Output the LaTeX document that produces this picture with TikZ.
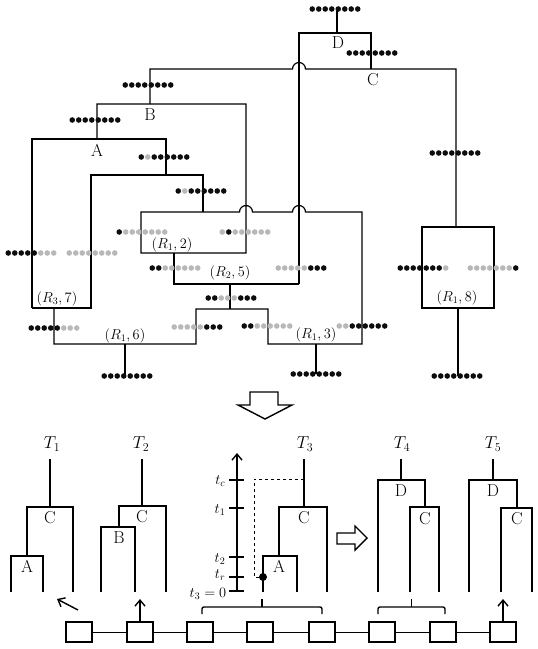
\documentclass[tikz,border=0pt]{standalone}
\usepackage{amsmath}
\usepackage{tikz}
\usetikzlibrary{arrows.meta}
\usetikzlibrary{positioning}
\definecolor{mgray}{rgb}{0.72, 0.72, 0.72}
\definecolor{mblack}{rgb}{0.05, 0.05, 0.05}
\colorlet{K}{mblack}
\colorlet{G}{mgray}

% a row of eight sites, centred on (#1,#2)
\newcommand{\sites}[3]{%
  \foreach \c [count=\i] in {#3}
    \fill [\c] (#1+\i*6.5-29.25, #2) circle (2.8pt);
}
\tikzset{
  lbl/.style={font=\fontsize{17.28}{20}\selectfont, inner sep=0pt},
  rlbl/.style={font=\fontsize{14.4}{17}\selectfont, inner sep=0pt},
  seqbox/.style={draw, line width=2.6pt, minimum width=26pt, minimum height=20pt, inner sep=0pt},
  tip/.style={-{Straight Barb[length=6pt, width=10pt]}}
}

\begin{document}
\begin{tikzpicture}[x=1pt, y=-1pt, line width=1.2pt]
      \useasboundingbox (0,0) rectangle (538,649);

      % ancestral recombination graph
      \draw (337,9) -- (337,33);
      \draw (299,284) -- (299,33) -- (371,33) -- (371,69);
      \draw (150,104) -- (150,69) -- (292.5,69) arc [start angle=180, end angle=0, radius=6.5pt] -- (456,69) -- (456,227);
      \draw (97,139) -- (97,104) -- (246,104) -- (246,253) -- (141,253) -- (141,212)
            -- (239.5,212) arc [start angle=180, end angle=0, radius=6.5pt]
            -- (292.5,212) arc [start angle=180, end angle=0, radius=6.5pt]
            -- (362,212) -- (362,344) -- (268,344) -- (268,309) -- (196,309) -- (196,344) -- (54,344) -- (54,308);
      \draw (32,308) -- (32,139) -- (166,139) -- (166,175);
      \draw (32,308) -- (91,308) -- (91,175) -- (203,175) -- (203,212);
      \draw (174,253) -- (174,284) -- (299,284);
      \draw (230,284) -- (230,309);
      \draw (316,344) -- (316,374);
      \draw (125,344) -- (125,376);
      \draw (422,227) rectangle (494,308);
      \draw (458,308) -- (458,376);

      \sites{335}{9}{K,K,K,K,K,K,K,K}
      \sites{372}{53}{K,K,K,K,K,K,K,K}
      \sites{148}{85}{K,K,K,K,K,K,K,K}
      \sites{95}{120}{K,K,K,K,K,K,K,K}
      \sites{455}{153}{K,K,K,K,K,K,K,K}
      \sites{164}{157}{K,G,K,K,K,K,K,K}
      \sites{201}{191}{K,G,K,K,K,K,K,K}
      \sites{142}{232}{K,G,G,G,G,G,G,G}
      \sites{245}{232}{G,K,G,G,G,G,G,G}
      \sites{31}{253}{K,K,K,K,K,G,G,G}
      \sites{92}{253}{G,G,G,G,G,G,G,G}
      \sites{175}{268}{K,K,G,G,G,G,G,G}
      \sites{301}{268}{G,G,G,G,G,K,K,K}
      \sites{423}{268}{K,K,K,K,K,K,K,G}
      \sites{493}{268}{G,G,G,G,G,G,G,K}
      \sites{231}{298}{K,K,G,G,G,K,K,K}
      \sites{197}{327}{G,G,G,G,G,K,K,K}
      \sites{267}{326}{K,K,G,G,G,G,G,G}
      \sites{362}{326}{G,G,K,K,K,K,K,K}
      \sites{54}{328}{K,K,K,K,K,G,G,G}
      \sites{316}{374}{K,K,K,K,K,K,K,K}
      \sites{127}{376}{K,K,K,K,K,K,K,K}
      \sites{457}{376}{K,K,K,K,K,K,K,K}

      \node [lbl] (nD) at (338,43) {D};
      \node [lbl] (nC) at (373,80) {C};
      \node [lbl] (nB) at (150,115) {B};
      \node [lbl] (nA) at (97,150) {A};
      \node [rlbl] (r12) at (172,245) {$(R_1, 2)$};
      \node [rlbl] (r25) at (230,273) {$(R_2, 5)$};
      \node [rlbl] (r37) at (57,299) {$(R_3, 7)$};
      \node [rlbl] (r16) at (125,336) {$(R_1, 6)$};
      \node [rlbl] (r13) at (316,335) {$(R_1, 3)$};
      \node [rlbl] (r18) at (457,298) {$(R_1, 8)$};

      \draw [line width=1.4pt] (250,392) -- (278,392) -- (278,405) -- (292,405) -- (265,419) -- (238,405) -- (250,405) -- cycle;

      % local trees
      \begin{scope}[line width=1.4pt]
      \node [lbl] (T1) at (52,444) {$T_1$};
      \draw (50,459) -- (50,507);
      \draw (27,556) -- (27,507) -- (73,507) -- (73,592);
      \draw (11,592) -- (11,556) -- (43,556) -- (43,592);
      \node [lbl] (t1C) at (50,518) {C};
      \node [lbl] (t1A) at (27,566) {A};

      \node [lbl] (T2) at (141,444) {$T_2$};
      \draw (142,459) -- (142,506);
      \draw (119,527) -- (119,506) -- (166,506) -- (166,592);
      \draw (101,592) -- (101,527) -- (135,527) -- (135,592);
      \node [lbl] (t2C) at (142,517) {C};
      \node [lbl] (t2B) at (119,538) {B};

      \draw [tip] (237,591) -- (237,453);
      \foreach \y in {480,508,557,577,591}
        \draw (229,\y) -- (244,\y);
      \node [rlbl, anchor=east] (tc) at (226,481) {$t_c$};
      \node [rlbl, anchor=east] (tone) at (226,510) {$t_1$};
      \node [rlbl, anchor=east] (ttwo) at (226,559) {$t_2$};
      \node [rlbl, anchor=east] (tr) at (226,575) {$t_r$};
      \node [rlbl, anchor=east] (tthree) at (227,594) {$t_3 = 0$};

      \node [lbl] (T3) at (305,444) {$T_3$};
      \draw (304,459) -- (304,507);
      \draw [dashed, line width=1pt] (304,479) -- (254,479) -- (254,577) -- (263,577);
      \fill (263,577) circle (4pt);
      \draw (279,556) -- (279,507) -- (327,507) -- (327,592);
      \draw (263,592) -- (263,556) -- (297,556) -- (297,592);
      \node [lbl] (t3C) at (304,518) {C};
      \node [lbl] (t3A) at (279,566) {A};

      \draw (337,533) -- (355,533) -- (355,526) -- (367,538) -- (355,550) -- (355,544) -- (337,544) -- cycle;

      \node [lbl] (T4) at (402,444) {$T_4$};
      \draw (401,459) -- (401,480);
      \draw (378,592) -- (378,480) -- (425,480) -- (425,507);
      \draw (410,592) -- (410,507) -- (439,507) -- (439,592);
      \node [lbl] (t4D) at (401,491) {D};
      \node [lbl] (t4C) at (425,519) {C};

      \node [lbl] (T5) at (493,444) {$T_5$};
      \draw (493,459) -- (493,480);
      \draw (469,592) -- (469,480) -- (517,480) -- (517,508);
      \draw (501,592) -- (501,508) -- (532,508) -- (532,592);
      \node [lbl] (t5D) at (493,491) {D};
      \node [lbl] (t5C) at (517,519) {C};

      \draw [rounded corners=2pt] (202,614) -- (202,607) -- (322,607) -- (322,614);
      \draw (262,607) -- (262,599);
      \draw [rounded corners=2pt] (378,614) -- (378,607) -- (445,607) -- (445,614);
      \draw (411.5,607) -- (411.5,599);
      \end{scope}

      % sequence blocks
      \foreach \x [count=\i] in {79,140,200,260,322,382,443,503}
        \node [seqbox] (box\i) at (\x,632) {};
      \foreach \i [evaluate=\i as \j using int(\i+1)] in {1,...,7}
        \draw [line width=1pt] (box\i) -- (box\j);

      \coordinate (a1s) at (78,610);
      \coordinate (a1e) at (57,599);
      \coordinate (a2e) at (140,599);
      \coordinate (a5e) at (503,599);
      \draw [tip, line width=1.4pt] (a1s) -- (a1e);
      \draw [tip, line width=1.4pt] (box2.north) -- (a2e);
      \draw [tip, line width=1.4pt] (box8.north) -- (a5e);
\end{tikzpicture}
\end{document}
